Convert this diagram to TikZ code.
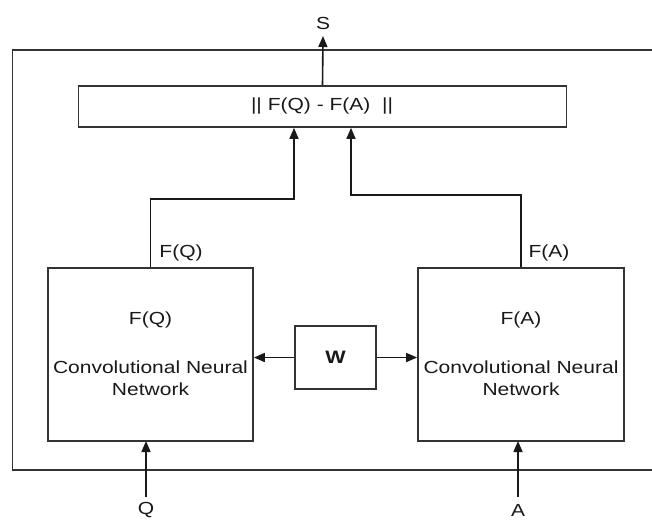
\documentclass[tikz,border=0pt]{standalone}
\usepackage{fontspec}
\setmainfont{Liberation Sans}[FakeStretch=1.2]
\usetikzlibrary{arrows.meta}
\begin{document}
\begin{tikzpicture}[x=1pt,y=-1pt,
  every node/.style={font=\fontsize{17.5}{22}\selectfont, text=black!90},
  box/.style={draw=black!80, line width=1.7pt, rectangle, inner sep=0pt},
  frame/.style={draw=black!80, line width=1.7pt},
  arr/.style={draw=black!90, line width=1.6pt, -{Triangle[length=11pt,width=9pt]}}]
\useasboundingbox (0,0) rectangle (652,522);
\fill[white] (0,0) rectangle (652,522);
% outer frame
\draw[frame] (653,50) -- (12.5,50) -- (12.5,470) -- (653,470);
% boxes
\node[box, minimum width=488pt, minimum height=41pt] (diff) at (322.5,106.5) {};
\node at (322,106) {|| F(Q) - F(A)\ \ ||};
\node[box, minimum width=205pt, minimum height=173pt] (boxQ) at (150.5,354.5) {};
\node[box, minimum width=206pt, minimum height=173pt] (boxA) at (521,354.5) {};
\node[box, minimum width=81pt, minimum height=63pt] (W) at (335.5,357.5) {};
\node at (335.5,357) {\fontsize{18}{20}\selectfont\bfseries W};
% inner texts
\node (fq) at (150.5,320) {F(Q)};
\node[align=center] (cq) at (150.5,378) {Convolutional Neural\\Network};
\node (fa) at (521,320) {F(A)};
\node[align=center] (ca) at (521,378) {Convolutional Neural\\Network};
% outer labels
\node (S) at (323,23) {S};
\node (Q) at (146,510) {Q};
\node (A) at (518,510) {A};
\node (lq) at (181,253) {F(Q)};
\node (la) at (549,253) {F(A)};
% connectors
\draw[arr] (diff.north) -- (323,36);
\draw[arr] (boxQ.north) -- ++(0,-68) -| ([xshift=-28.5pt]diff.south);
\draw[arr] (boxA.north) -- ++(0,-72) -| ([xshift=28.5pt]diff.south);
\draw[arr] (W.west) -- (W.west -| boxQ.east);
\draw[arr] (W.east) -- (W.east -| boxA.west);
\draw[arr] (146,497) -- (146,441);
\draw[arr] (518,497) -- (518,441);
\end{tikzpicture}
\end{document}
